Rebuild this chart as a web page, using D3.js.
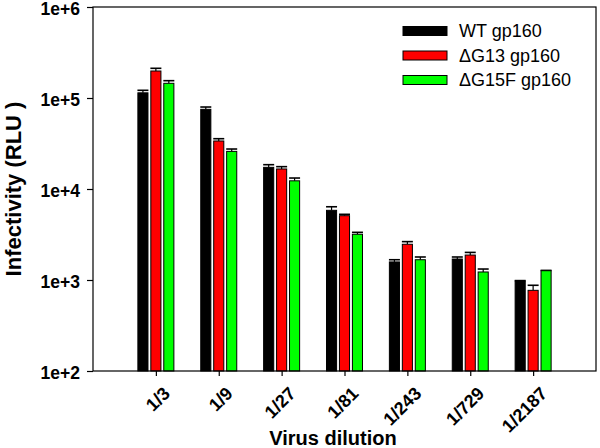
<!DOCTYPE html>
<html lang="en">
<head>
  <meta charset="UTF-8">
  <title>Infectivity by virus dilution</title>
  <style>
    body { margin: 0; background: #fff; }
    svg { display: block; font-family: Arial, "Liberation Sans", sans-serif; }
    .tick text { font-weight: bold; }
  </style>
</head>
<body>
<div id="chart"></div>
<script src="https://d3js.org/d3.v7.min.js"></script>
<script>
  // Data
  const dilutions = ['1/3', '1/9', '1/27', '1/81', '1/243', '1/729', '1/2187'];
  const seriesNames = ['WT gp160', '\u0394G13 gp160', '\u0394G15F gp160'];
  const seriesColors = ['#000000', '#ff0000', '#00ff00'];
  const wtValues    = [114000, 75100, 17300, 5830, 1580, 1700, 975];
  const wtErrors    = [7500, 4500, 1200, 550, 90, 90, 10];
  const g13Values   = [198000, 33700, 16600, 5090, 2470, 1880, 770];
  const g13Errors   = [14000, 2000, 1000, 180, 170, 130, 105];
  const g15Values   = [145000, 25900, 12300, 3180, 1670, 1225, 1265];
  const g15Errors   = [10000, 1600, 900, 160, 120, 95, 10];
  const yTicks = [1e2, 1e3, 1e4, 1e5, 1e6];

  const values = [wtValues, g13Values, g15Values];
  const errors = [wtErrors, g13Errors, g15Errors];

  const width = 600;
  const height = 448;
  const plotLeft = 93, plotRight = 596, plotTop = 7, plotBottom = 371;

  const svg = d3.select('#chart')
    .append('svg')
    .attr('width', width)
    .attr('height', height);

  const x = d3.scalePoint()
    .domain(dilutions)
    .range([plotLeft, plotRight])
    .padding(1);

  const sub = d3.scaleBand()
    .domain(d3.range(seriesNames.length))
    .range([-18, 18])
    .paddingInner(0.22);

  const y = d3.scaleLog()
    .domain([1e2, 1e6])
    .range([plotBottom, plotTop]);

  // bars
  const groups = svg.selectAll('.group')
    .data(dilutions)
    .enter().append('g')
    .attr('class', 'group')
    .attr('transform', d => `translate(${x(d)},0)`);

  groups.each(function (d, i) {
    const g = d3.select(this);
    seriesNames.forEach((s, k) => {
      const v = values[k][i];
      const e = errors[k][i];
      const bx = sub(k);
      const cx = bx + sub.bandwidth() / 2;
      // error bar (upper only)
      g.append('line')
        .attr('x1', cx).attr('x2', cx)
        .attr('y1', y(v)).attr('y2', y(v + e))
        .attr('stroke', '#000').attr('stroke-width', 1.2);
      g.append('line')
        .attr('x1', cx - 5.5).attr('x2', cx + 5.5)
        .attr('y1', y(v + e)).attr('y2', y(v + e))
        .attr('stroke', '#000').attr('stroke-width', 1.6);
      g.append('rect')
        .attr('x', bx)
        .attr('y', y(v))
        .attr('width', sub.bandwidth())
        .attr('height', plotBottom - y(v))
        .attr('fill', seriesColors[k])
        .attr('stroke', '#000')
        .attr('stroke-width', 1);
    });
  });

  // frame
  svg.append('rect')
    .attr('x', plotLeft).attr('y', plotTop)
    .attr('width', plotRight - plotLeft).attr('height', plotBottom - plotTop)
    .attr('fill', 'none')
    .attr('stroke', '#000')
    .attr('stroke-width', 1.2);

  // y axis
  const yAxis = svg.append('g')
    .attr('transform', `translate(${plotLeft},0)`)
    .call(d3.axisLeft(y)
      .tickValues(yTicks)
      .tickFormat(d => '1e+' + Math.round(Math.log10(d)))
      .tickSize(6)
      .tickPadding(7));
  yAxis.select('.domain').remove();
  yAxis.selectAll('.tick line').attr('stroke-width', 1.2);
  yAxis.selectAll('.tick text')
    .style('font-size', '17.5px')
    .attr('fill', '#000')
    .attr('dy', '0.42em');

  // x axis
  const xAxis = svg.append('g')
    .attr('transform', `translate(0,${plotBottom})`)
    .call(d3.axisBottom(x).tickSize(5));
  xAxis.select('.domain').remove();
  xAxis.selectAll('.tick line').attr('stroke-width', 1.2);
  xAxis.selectAll('.tick text')
    .style('font-size', '18px')
    .attr('fill', '#000')
    .attr('text-anchor', 'end')
    .attr('dy', null)
    .attr('transform', 'translate(9,18) rotate(-45)');

  // axis titles
  svg.append('text')
    .attr('x', 333)
    .attr('y', 445)
    .attr('text-anchor', 'middle')
    .style('font-size', '20px')
    .style('font-weight', 'bold')
    .text('Virus dilution');

  svg.append('text')
    .attr('transform', `translate(21,${(plotTop + plotBottom) / 2}) rotate(-90)`)
    .attr('text-anchor', 'middle')
    .style('font-size', '22px')
    .style('font-weight', 'bold')
    .text('Infectivity (RLU )');

  // legend
  const legend = svg.selectAll('.legend')
    .data(seriesNames)
    .enter().append('g')
    .attr('class', 'legend')
    .attr('transform', (d, i) => `translate(403,${31 + i * 24.5})`);

  legend.append('rect')
    .attr('x', 0).attr('y', -4.5)
    .attr('width', 44).attr('height', 9)
    .attr('fill', (d, i) => seriesColors[i])
    .attr('stroke', '#000');

  legend.append('text')
    .attr('x', 56)
    .attr('y', 0)
    .attr('dy', '0.36em')
    .style('font-size', '18px')
    .text(d => d);
</script>
</body>
</html>
